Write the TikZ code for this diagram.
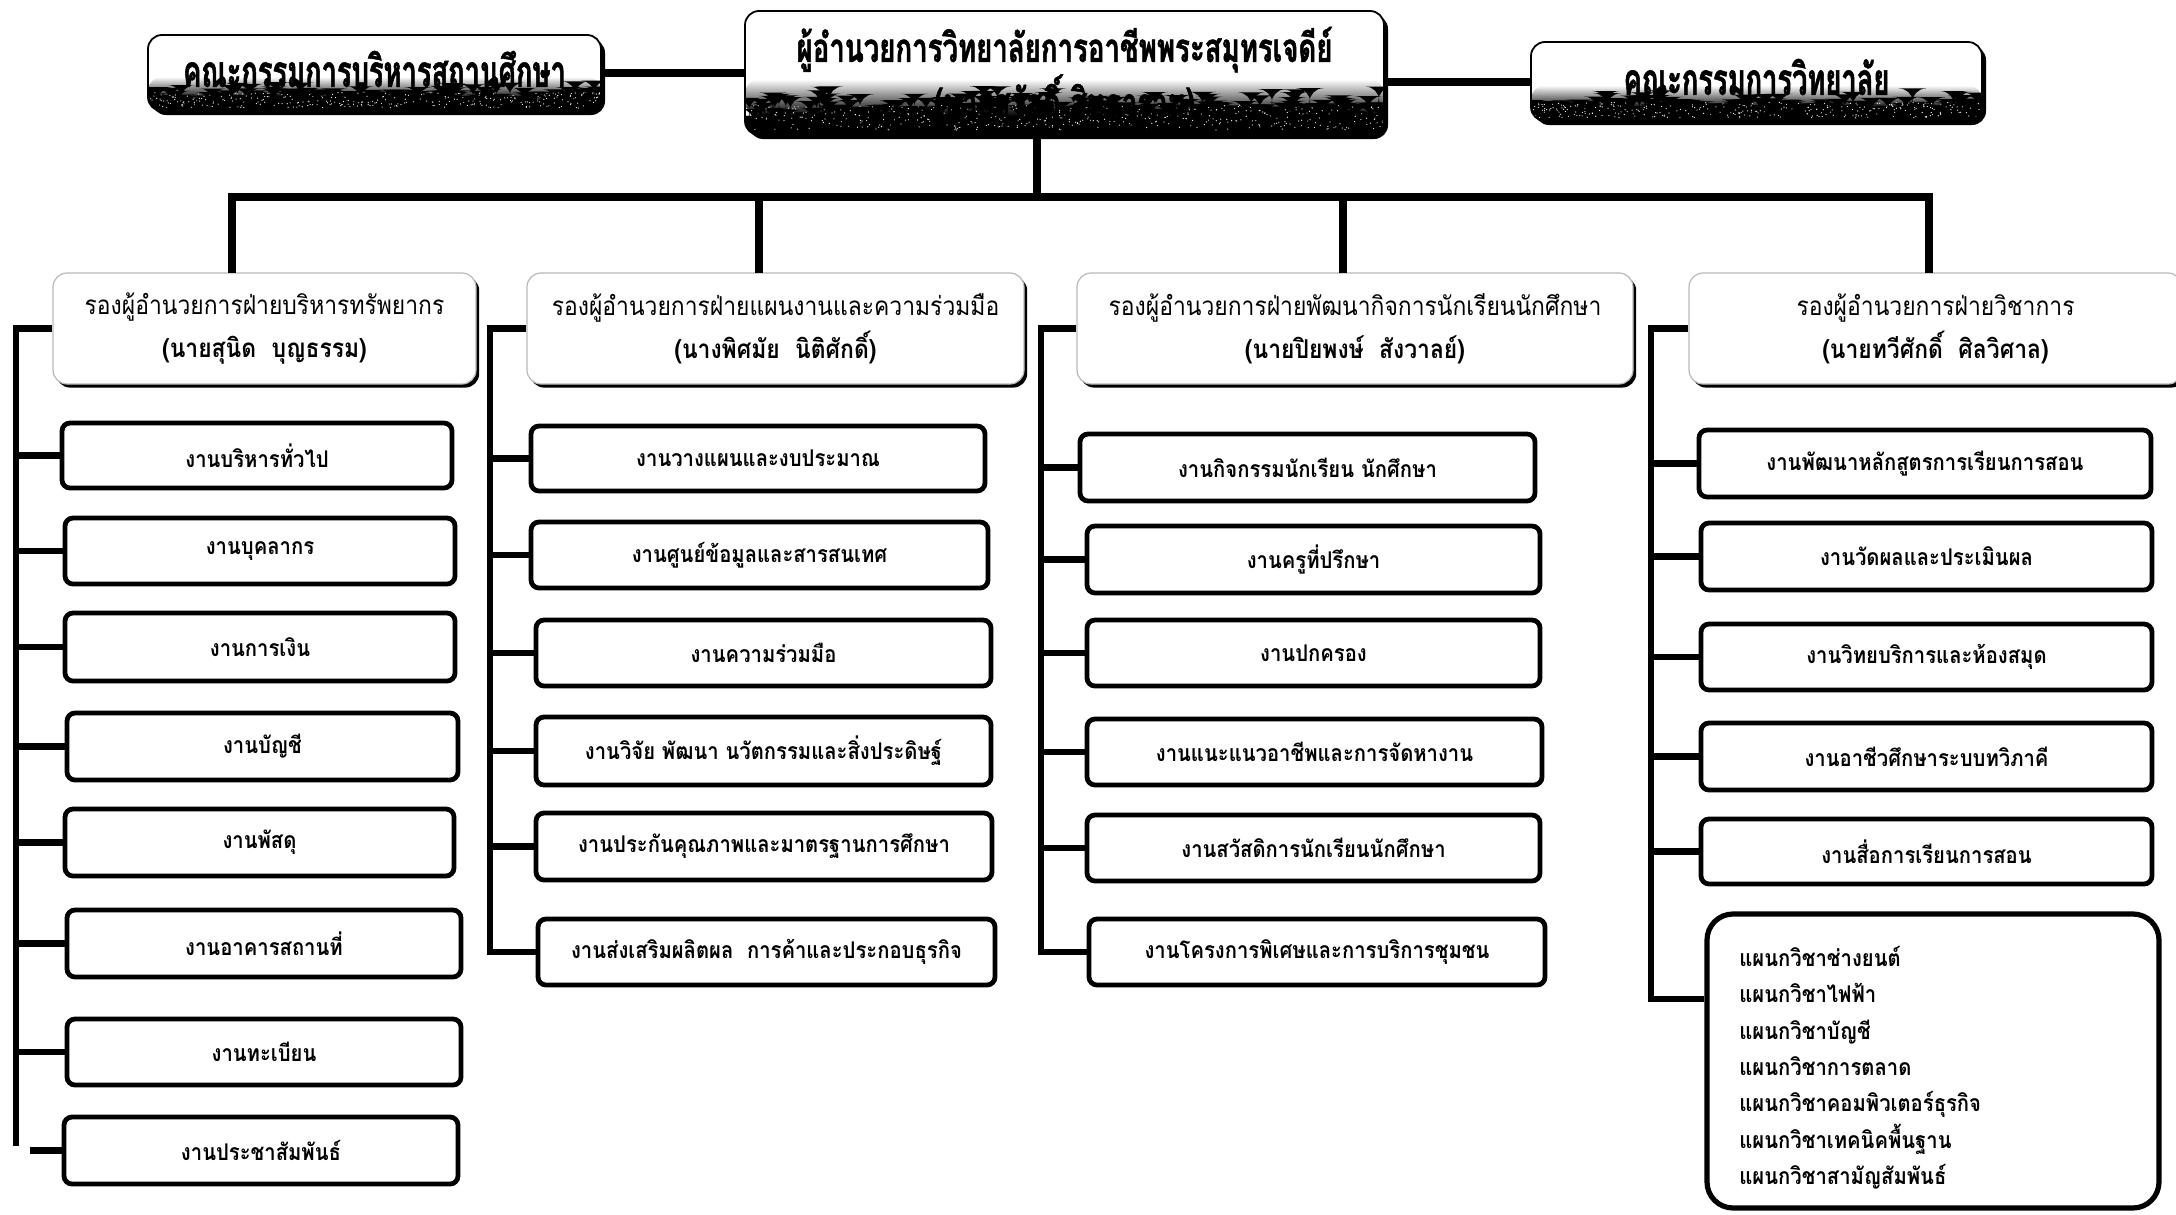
\documentclass[tikz,border=0pt]{standalone}
\usepackage{fontspec}
\setmainfont[Script=Thai]{Loma}
\newfontfamily\condfont[Script=Thai,FakeStretch=0.62,FakeBold=1.2]{Loma}
\newfontfamily\titlefont[Script=Thai,FakeStretch=0.69,FakeBold=1.2]{Loma}
\newfontfamily\headfont[Script=Thai,FakeStretch=0.88]{Loma}
\newfontfamily\itemfont[Script=Thai,FakeStretch=0.88]{Loma}
\usetikzlibrary{calc,shadows}
\newcommand{\mkbox}[6]{\node[itembox, minimum width={(#4-#2)*0.5pt}, minimum height={(#5-#3)*0.5pt}] (#1) at ({(#2+#4)/2},{(#3+#5)/2}) {#6};}
\newcommand{\grassfill}[1]{%
  \path (path picture bounding box.south west) coordinate (ppsw) (path picture bounding box.north east) coordinate (ppne);
  \path let \p1=(ppsw), \p2=(ppne) in
    [fill=black] (\x1,\y1) rectangle (\x2,{\y1+0.16*(\y2-\y1)});
  \path let \p1=(ppsw), \p2=(ppne) in
    [top color=white, bottom color=black] (\x1,{\y1+0.15*(\y2-\y1)}) rectangle (\x2,{\y1+0.45*(\y2-\y1)});
  \foreach \k in {1,...,#1}{%
    \pgfmathsetmacro{\uu}{rnd}\pgfmathsetmacro{\hh}{0.15+0.27*rnd*rnd}%
    \path let \p1=(ppsw), \p2=(ppne) in
      [fill=black] ({\x1+\uu*(\x2-\x1)},\y1) rectangle ({\x1+\uu*(\x2-\x1)+0.4pt},{\y1+\hh*(\y2-\y1)});
  }
  \foreach \k in {1,...,#1}{%
    \pgfmathsetmacro{\vv}{rnd}\pgfmathsetmacro{\ww}{0.04+0.2*rnd}%
    \path let \p1=(ppsw), \p2=(ppne) in
      [fill=white] ({\x1+\vv*(\x2-\x1)},{\y1+\ww*(\y2-\y1)}) circle (0.3pt);
  }}
\tikzset{
  conn/.style={line width=3.4pt, line join=miter},
  topconn/.style={line width=4pt, line join=miter},
  itembox/.style={draw, line width=2.4pt, rounded corners=4pt, fill=white, inner sep=0pt,
    font=\itemfont\fontsize{11.5}{13}\selectfont\bfseries},
  headbox/.style={draw=gray!55, line width=0.6pt, rounded corners=7pt, fill=white, inner sep=0pt,
    align=center, font=\headfont\fontsize{13}{21.5}\selectfont,
    drop shadow={opacity=1, fill=black, shadow xshift=1.6pt, shadow yshift=-1.8pt}},
  topbox/.style={draw=black, line width=0.9pt, rounded corners=7pt, fill=white, inner sep=0pt,
    drop shadow={opacity=1, fill=black, shadow xshift=2pt, shadow yshift=-2pt}},
}
\begin{document}
\begin{tikzpicture}[x=0.5pt,y=-0.5pt]
\pgfmathsetseed{11}
\useasboundingbox[fill=white] (0,0) rectangle (2176,1215);

% ---- top row ----
\node[topbox, minimum width={453*0.5pt}, minimum height={76*0.5pt},
  path picture={\grassfill{300}}] (tl) at (374.5,73) {};
\node[font=\condfont\bfseries\fontsize{22}{24}\selectfont] (tltext) at (374.5,69) {คณะกรรมการบริหารสถานศึกษา};
\node[topbox, minimum width={639*0.5pt}, minimum height={124*0.5pt},
  path picture={\grassfill{420}}] (dir) at (1064.5,73) {};
\node[font=\titlefont\bfseries\fontsize{20}{22}\selectfont, align=center] (dirtext) at (1064.5,76)
  {ผู้อำนวยการวิทยาลัยการอาชีพพระสมุทรเจดีย์\\ \color{black}(นายสวัสดิ์ สิทธาราม)};
\node[topbox, minimum width={451*0.5pt}, minimum height={79*0.5pt},
  path picture={\grassfill{300}}] (tr) at (1756.5,81.5) {};
\node[font=\condfont\bfseries\fontsize{22}{24}\selectfont] (trtext) at (1756.5,77) {คณะกรรมการวิทยาลัย};

\draw[topconn] (tl.east) -- (tl.east -| dir.west);
\draw[topconn] (dir.east |- tr.west) -- (tr.west);

% ---- deputy headers ----
\node[headbox, minimum width={423*0.5pt}, minimum height={111*0.5pt}] (h1) at (264.5,328.5)
  {รองผู้อำนวยการฝ่ายบริหารทรัพยากร\\ \bfseries (นายสุนิด\ \ บุญธรรม)};
\node[headbox, minimum width={497*0.5pt}, minimum height={111*0.5pt}] (h2) at (775.5,328.5)
  {รองผู้อำนวยการฝ่ายแผนงานและความร่วมมือ\\ \bfseries (นางพิศมัย\ \ นิติศักดิ์)};
\node[headbox, minimum width={556*0.5pt}, minimum height={111*0.5pt}] (h3) at (1355,328.5)
  {รองผู้อำนวยการฝ่ายพัฒนากิจการนักเรียนนักศึกษา\\ \bfseries (นายปิยพงษ์\ \ สังวาลย์)};
\node[headbox, minimum width={493*0.5pt}, minimum height={111*0.5pt}] (h4) at (1935.5,328.5)
  {รองผู้อำนวยการฝ่ายวิชาการ\\ \bfseries (นายทวีศักดิ์\ \ ศิลวิศาล)};

% ---- top tree ----
\coordinate (bus) at (1037,197);
\coordinate (d1) at (232,273);
\coordinate (d2) at (759,273);
\coordinate (d3) at (1343,273);
\coordinate (d4) at (1929,273);
\draw[topconn] (dir.south -| bus) -- (bus);
\draw[topconn] (d1) -- (d1 |- bus) -- (d4 |- bus) -- (d4);
\draw[topconn] (d2 |- bus) -- (d2);
\draw[topconn] (d3 |- bus) -- (d3);

% ---- column 1 ----
\mkbox{a1}{62}{423}{452}{488}{งานบริหารทั่วไป}
\mkbox{a2}{65}{518}{455}{584}{งานบุคลากร}
\mkbox{a3}{65}{613}{455}{681}{งานการเงิน}
\mkbox{a4}{67}{713}{458}{780}{งานบัญชี}
\mkbox{a5}{65}{809}{454}{876}{งานพัสดุ}
\mkbox{a6}{67}{910}{461}{977}{งานอาคารสถานที่}
\mkbox{a7}{67}{1019}{461}{1085}{งานทะเบียน}
\mkbox{a8}{64}{1117}{458}{1184}{งานประชาสัมพันธ์}
\coordinate (s1) at (16,0);
\coordinate (s1end) at (16,1146);
\coordinate (s1last) at (30,0);
\draw[conn] (h1.west) -- (h1.west -| s1) -- (s1end);
\foreach \n in {a1,a2,a3,a4,a5,a6,a7}{\draw[conn] (\n.west -| s1) -- (\n.west);}
\draw[conn] (a8.west -| s1last) -- (a8.west);

% ---- column 2 ----
\mkbox{b1}{531}{426}{985}{491}{งานวางแผนและงบประมาณ}
\mkbox{b2}{531}{522}{988}{588}{งานศูนย์ข้อมูลและสารสนเทศ}
\mkbox{b3}{536}{620}{991}{686}{งานความร่วมมือ}
\mkbox{b4}{536}{717}{991}{785}{งานวิจัย พัฒนา นวัตกรรมและสิ่งประดิษฐ์}
\mkbox{b5}{536}{813}{992}{880}{งานประกันคุณภาพและมาตรฐานการศึกษา}
\mkbox{b6}{538}{919}{995}{985}{งานส่งเสริมผลิตผล\ \ การค้าและประกอบธุรกิจ}
\coordinate (s2) at (490,0);
\draw[conn] (h2.west) -- (h2.west -| s2) -- (b6.west -| s2) -- (b6.west);
\foreach \n in {b1,b2,b3,b4,b5}{\draw[conn] (\n.west -| s2) -- (\n.west);}

% ---- column 3 ----
\mkbox{c1}{1080}{434}{1535}{501}{งานกิจกรรมนักเรียน นักศึกษา}
\mkbox{c2}{1087}{526}{1540}{593}{งานครูที่ปรึกษา}
\mkbox{c3}{1087}{620}{1540}{686}{งานปกครอง}
\mkbox{c4}{1087}{719}{1542}{785}{งานแนะแนวอาชีพและการจัดหางาน}
\mkbox{c5}{1087}{815}{1540}{881}{งานสวัสดิการนักเรียนนักศึกษา}
\mkbox{c6}{1089}{919}{1545}{985}{งานโครงการพิเศษและการบริการชุมชน}
\coordinate (s3) at (1041,0);
\draw[conn] (h3.west) -- (h3.west -| s3) -- (c6.west -| s3) -- (c6.west);
\foreach \n in {c1,c2,c3,c4,c5}{\draw[conn] (\n.west -| s3) -- (\n.west);}

% ---- column 4 ----
\mkbox{e1}{1699}{430}{2151}{497}{งานพัฒนาหลักสูตรการเรียนการสอน}
\mkbox{e2}{1701}{523}{2152}{590}{งานวัดผลและประเมินผล}
\mkbox{e3}{1701}{624}{2152}{690}{งานวิทยบริการและห้องสมุด}
\mkbox{e4}{1701}{723}{2152}{790}{งานอาชีวศึกษาระบบทวิภาคี}
\mkbox{e5}{1701}{819}{2152}{884}{งานสื่อการเรียนการสอน}
\node[draw, line width=2.6pt, rounded corners=13pt, fill=white, inner sep=0pt,
  minimum width={452*0.5pt}, minimum height={294*0.5pt}] (dept) at (1933,1061) {};
\node[anchor=north west, align=left, inner sep=0pt,
  font=\itemfont\fontsize{11.5}{18.15}\selectfont\bfseries] (deptlist) at (1739,946)
  {แผนกวิชาช่างยนต์\\ แผนกวิชาไฟฟ้า\\ แผนกวิชาบัญชี\\ แผนกวิชาการตลาด\\ แผนกวิชาคอมพิวเตอร์ธุรกิจ\\ แผนกวิชาเทคนิคพื้นฐาน\\ แผนกวิชาสามัญสัมพันธ์};
\coordinate (s4) at (1651,0);
\coordinate (s4end) at (1651,999);
\draw[conn] (h4.west) -- (h4.west -| s4) -- (s4end) -- (s4end -| dept.west);
\foreach \n in {e1,e2,e3,e4,e5}{\draw[conn] (\n.west -| s4) -- (\n.west);}
\end{tikzpicture}
\end{document}
